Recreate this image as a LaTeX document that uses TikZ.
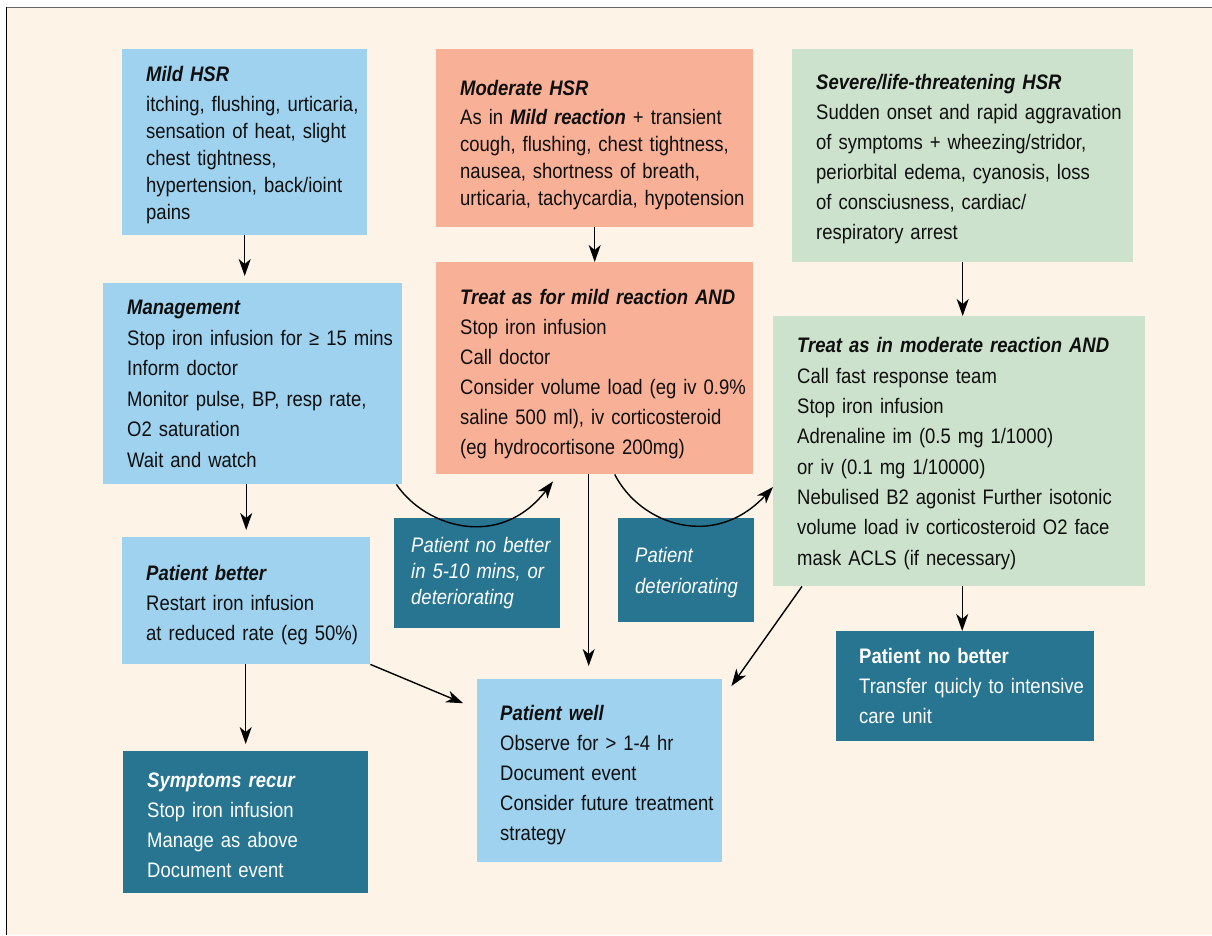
\documentclass[tikz,border=0pt]{standalone}
\usepackage{fontspec}
\setmainfont{Liberation Sans}[FakeStretch=0.88]
\usetikzlibrary{arrows.meta}
\definecolor{cream}{RGB}{254,243,231}
\definecolor{lblue}{RGB}{158,210,238}
\definecolor{salmon}{RGB}{248,176,151}
\definecolor{lgreen}{RGB}{205,226,205}
\definecolor{dteal}{RGB}{39,117,145}
\definecolor{ink}{RGB}{15,15,15}
\newcommand\hdr[1]{\textbf{\itshape #1}}
\newcommand\lift[1]{\rule{0pt}{#1}}
\newcommand\nobreaklines{\hyphenpenalty=10000 \exhyphenpenalty=10000 \rightskip=-60pt plus 1fil}
\tikzset{
  box/.style={anchor=north west, inner xsep=16pt, inner ysep=0pt, align=left,
    text=ink, execute at begin node={\leftskip=8pt\nobreaklines}},
  ls/.style={font=\fontsize{21}{#1}\selectfont},
  bluebox/.style={box, fill=lblue},
  salbox/.style={box, fill=salmon},
  grnbox/.style={box, fill=lgreen},
  tealbox/.style={box, fill=dteal, text=white, execute at begin node={\leftskip=1pt\nobreaklines}},
  arr/.style={-{Stealth[length=17pt,width=12pt,inset=5pt]}, line width=1.4pt, draw=black}
}
\begin{document}
\begin{tikzpicture}[x=1pt,y=1pt]
\useasboundingbox (0,0) rectangle (1212,-935);
\fill[white] (0,0) rectangle (1212,-935);
\fill[cream] (6.5,-7.5) rectangle (1212,-935);
\draw[line width=1.2pt, black!60] (5.9,-7.5) -- (1212,-7.5);
\draw[line width=1.2pt, black] (6.5,-7) -- (6.5,-935);

% top row
\node[bluebox, ls=27, minimum width=245, minimum height=186, text width=213pt] (mild) at (122,-49)
 {\lift{20pt}\hdr{Mild HSR}\\[3pt]
  itching, flushing, urticaria,\\
  sensation of heat, slight\\
  chest tightness,\\
  hypertension, back/ioint\\
  pains};
\node[salbox, ls=27, minimum width=317, minimum height=178, text width=285pt] (mod) at (436,-49)
 {\lift{28pt}\hdr{Moderate HSR}\\[2pt]
  As in \hdr{Mild reaction} + transient\\
  cough, flushing, chest tightness,\\
  nausea, shortness of breath,\\
  urticaria, tachycardia, hypotension};
\node[grnbox, ls=30, minimum width=341, minimum height=213, text width=309pt] (sev) at (792,-49)
 {\lift{22pt}\hdr{Severe/life-threatening HSR}\\
  Sudden onset and rapid aggravation\\
  of symptoms + wheezing/stridor,\\
  periorbital edema, cyanosis, loss\\
  of consciusness, cardiac/\\
  respiratory arrest};

% second row
\node[bluebox, ls=30.5, minimum width=299, minimum height=201, text width=267pt] (mgmt) at (103,-283)
 {\hdr{Management}\\
  Stop iron infusion for ≥ 15 mins\\
  Inform doctor\\
  Monitor pulse, BP, resp rate,\\
  O2 saturation\\
  Wait and watch};
\node[salbox, ls=30, minimum width=317, minimum height=212, text width=285pt] (t1) at (436,-262)
 {\lift{26pt}\hdr{Treat as for mild reaction AND}\\
  Stop iron infusion\\
  Call doctor\\
  Consider volume load (eg iv 0.9\%\\
  saline 500 ml), iv corticosteroid\\
  (eg hydrocortisone 200mg)};
\node[grnbox, ls=30.3, minimum width=372, minimum height=270, text width=340pt] (t2) at (773,-316)
 {\lift{20pt}\hdr{Treat as in moderate reaction AND}\\
  Call fast response team\\
  Stop iron infusion\\
  Adrenaline im (0.5 mg 1/1000)\\
  or iv (0.1 mg 1/10000)\\
  Nebulised B2 agonist Further isotonic\\
  volume load iv corticosteroid O2 face\\
  mask ACLS (if necessary)};

% teal condition boxes
\node[tealbox, ls=26, minimum width=166, minimum height=110, text width=134pt] (nb1) at (394,-518)
 {\itshape Patient no better\\ \itshape in 5-10 mins, or\\ \itshape deteriorating};
\node[tealbox, ls=31, minimum width=136, minimum height=104, text width=104pt] (nb2) at (618,-518)
 {\lift{20pt}\itshape Patient\\ \itshape deteriorating};

% third row
\node[bluebox, ls=30, minimum width=248, minimum height=127, text width=216pt] (better) at (122,-537)
 {\lift{24pt}\hdr{Patient better}\\
  Restart iron infusion\\
  at reduced rate (eg 50\%)};
\node[bluebox, ls=30, minimum width=245, minimum height=183, text width=213pt, execute at begin node={\leftskip=7pt\nobreaklines}] (well) at (477,-679)
 {\lift{24pt}\hdr{Patient well}\\
  Observe for > 1-4 hr\\
  Document event\\
  Consider future treatment\\
  strategy};
\node[tealbox, ls=30, minimum width=258, minimum height=110, text width=226pt, execute at begin node={\leftskip=7pt\nobreaklines}] (nb3) at (836,-631)
 {\textbf{Patient no better}\\
  Transfer quicly to intensive\\
  care unit};
\node[tealbox, ls=30, minimum width=245, minimum height=142, text width=213pt, execute at begin node={\leftskip=8pt\nobreaklines}] (symp) at (123,-751)
 {\lift{20pt}\hdr{Symptoms recur}\\
  Stop iron infusion\\
  Manage as above\\
  Document event};

% connectors
\draw[arr, shorten >=7pt] (mild.south) -- (mild.south |- mgmt.north);
\draw[arr] (mod.south) -- (mod.south |- t1.north);
\draw[arr] (sev.south) -- (sev.south |- t2.north);
\draw[arr, shorten >=7pt] (mgmt.south -| better.north) -- (better.north);
\draw[arr, shorten >=7pt] (better.south -| symp.north) -- (symp.north);
\draw[arr, shorten >=15pt] (better.south east) -- ([yshift=-30]well.north west);
\draw[arr, shorten >=13pt] ([xshift=-6]t1.south) -- ([xshift=-6]t1.south |- well.north);
\draw[arr] ([xshift=29]t2.south west) -- ([shift={(9,-7)}]well.north east);
\draw[arr] ([xshift=3]t2.south) -- ([xshift=3]t2.south |- nb3.north);
\draw[arr] ([xshift=-6]mgmt.south east) .. controls +(29,-43) and +(-53,-69) .. ([shift={(117,-7)}]t1.south west);
\draw[arr] ([xshift=20]t1.south) .. controls +(26,-51) and +(-58,-63) .. ([yshift=-171]t2.north west);
\end{tikzpicture}
\end{document}
